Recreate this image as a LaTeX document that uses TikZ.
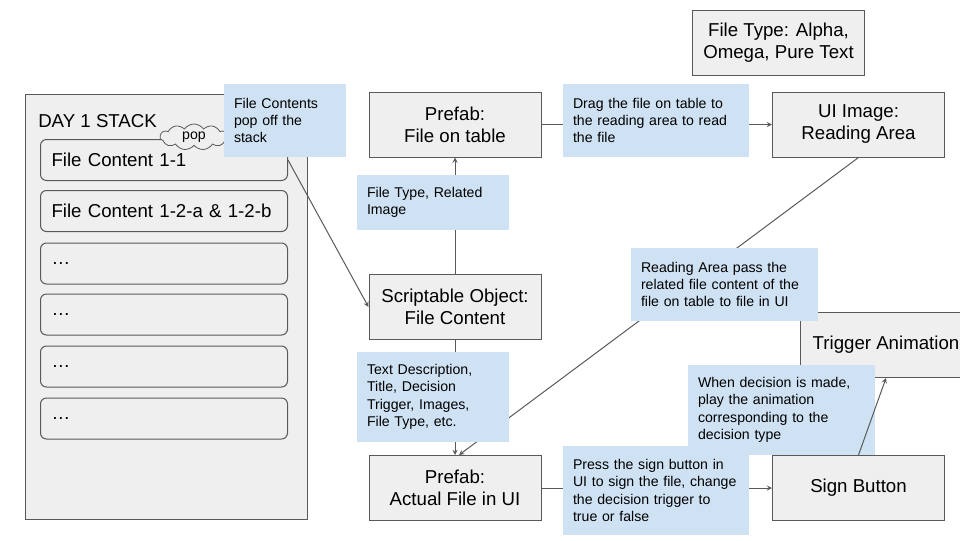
\documentclass[tikz,border=0pt]{standalone}
\usepackage{fontspec}
\setmainfont{Liberation Sans}
\usetikzlibrary{arrows}
\usetikzlibrary{shapes.symbols}
\definecolor{boxgray}{HTML}{EFEFEF}
\definecolor{linegray}{HTML}{595959}
\definecolor{noteblue}{HTML}{CFE2F3}
\tikzset{
  box/.style={draw=linegray, fill=boxgray, line width=0.75pt, minimum width=129pt,
    minimum height=48.75pt, align=center, inner sep=0pt,
    font=\fontsize{14}{16.5}\selectfont},
  note/.style={fill=noteblue, align=left, inner xsep=7.5pt, inner ysep=0pt,
    font=\fontsize{10.6}{13}\selectfont},
  stackitem/.style={draw=linegray, fill=boxgray, line width=0.75pt, rounded corners=4.5pt,
    anchor=west, text width=168.75pt, inner xsep=8.25pt, minimum height=30.75pt,
    align=left, font=\fontsize{14}{16.5}\selectfont},
  link/.style={->, >=stealth, draw=linegray, line width=0.75pt}
}
\begin{document}
\begin{tikzpicture}[x=0.75pt, y=-0.75pt]
  \useasboundingbox (0,0) rectangle (960,540);

  % the stack
  \draw[draw=linegray, fill=boxgray, line width=0.75pt] (25,94) rectangle (307,519);
  \node (stacktitle) [anchor=west, inner sep=0pt, font=\fontsize{14}{16.5}\selectfont] at (38,121) {DAY 1 STACK};
  \foreach \i/\y/\t in {1/160/File Content 1-1, 2/211/File Content 1-2-a \& 1-2-b,
      3/263.5/\dots, 4/314.5/\dots, 5/366.5/\dots, 6/418.5/\dots}
    \node (item\i) [stackitem] at (40,\y) {\t};
  \node (pop) [cloud, cloud puffs=11, cloud puff arc=110, cloud ignores aspect,
    draw=linegray, fill=boxgray, line width=0.6pt, minimum width=51pt, minimum height=19.5pt,
    inner sep=0pt, font=\fontsize{10.6}{13}\selectfont] at (194,137) {pop};

  % main boxes
  \node (table) [box] at (455,124.5) {Prefab:\\File on table};
  \node (read) [box] at (858.5,124.5) {UI Image:\\Reading Area};
  \node (types) [box] at (778.5,43) {File Type: Alpha,\\Omega, Pure Text};
  \node (script) [box] at (455,307) {Scriptable Object:\\File Content};
  \node (actual) [box] at (455,488) {Prefab:\\Actual File in UI};
  \node (sign) [box] at (858.5,488) {Sign Button};
  \node (trigger) [box] at (886,345) {Trigger Animation};

  % connectors
  \draw[link] (item1.east) -- (script.west);
  \draw[link] (table.east) -- (read.west);
  \draw[link] (script.north) -- (table.south);
  \draw[link] (script.south) -- (actual.north);
  \draw[link] (read.south) -- ([xshift=3pt]actual.north);
  \draw[link] (actual.east) -- (sign.west);

  % notes
  \node (popnote) [note, text width=76.5pt, minimum height=54.75pt] at (285,120.5)
    {File Contents\\pop off the\\stack};
  \node (dragnote) [note, text width=124.5pt, minimum height=54.75pt] at (656,120.5)
    {Drag the file on table to\\the reading area to read\\the file};
  \node (typenote) [note, text width=99pt, minimum height=41.25pt] at (433,202.5)
    {File Type, Related\\Image};
  \node (descnote) [note, text width=99pt, minimum height=67.5pt] at (433,397)
    {Text Description,\\Title, Decision\\Trigger, Images,\\File Type, etc.};
  \node (readnote) [note, text width=125.25pt, minimum height=54.75pt] at (724.5,284.5)
    {Reading Area pass the\\related file content of the\\file on table to file in UI};
  \node (decnote) [note, text width=125.25pt, minimum height=67.5pt] at (781.5,410)
    {When decision is made,\\play the animation\\corresponding to the\\decision type};
  \node (signnote) [note, text width=124.5pt, minimum height=66.75pt] at (656,490.5)
    {Press the sign button in\\UI to sign the file, change\\the decision trigger to\\true or false};

  \draw[link] (sign.north) -- (trigger.south);
\end{tikzpicture}
\end{document}
